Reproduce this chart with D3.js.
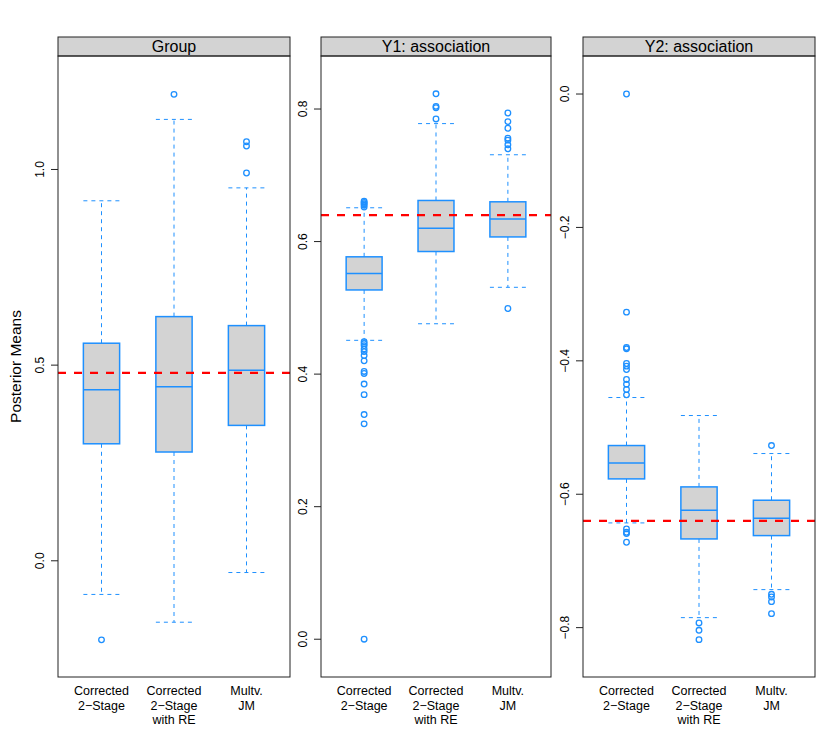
<!DOCTYPE html>
<html lang="en">
<head>
<meta charset="utf-8">
<style>
  body { margin: 0; background: white; }
  svg { font-family: 'Liberation Sans', Arial, sans-serif; }
  .frame { fill: none; stroke: #222; stroke-width: 1; }
  .strip { fill: #d3d3d3; stroke: #222; stroke-width: 1; }
  .box { fill: #d3d3d3; stroke: #1e90ff; stroke-width: 1.5; }
  .whisker { stroke: #1e90ff; stroke-width: 1; stroke-dasharray: 4,4; fill: none; }
  .outlier { fill: none; stroke: #1e90ff; stroke-width: 1.3; }
  .truth { stroke: red; stroke-width: 2.2; stroke-dasharray: 8,8; }
  .tick line { stroke: #222; }
</style>
</head>
<body>
<svg width="830" height="755"></svg>
<script src="https://d3js.org/d3.v7.min.js"></script>
<script>
// panel titles, methods, reference values
const panels = ["Group", "Y1: association", "Y2: association"];
const methods = [["Corrected", "2\u2212Stage"], ["Corrected", "2\u2212Stage", "with RE"], ["Multv.", "JM"]];
const trueValues = [0.48, 0.64, -0.64];
const yLimits = [[-0.297, 1.29], [-0.057, 0.88], [-0.874, 0.057]];
const yTicks = [[0.0, 0.5, 1.0], [0.0, 0.2, 0.4, 0.6, 0.8], [-0.8, -0.6, -0.4, -0.2, 0.0]];

// box stats: [lower whisker, q1, median, q3, upper whisker]
const groupStats = [[-0.086, 0.299, 0.437, 0.556, 0.920], [-0.157, 0.278, 0.445, 0.624, 1.128], [-0.030, 0.346, 0.487, 0.601, 0.953]];
const groupOutliers = [[-0.202], [1.192], [0.991, 1.060, 1.071]];

const y1Stats = [[0.451, 0.527, 0.552, 0.577, 0.651], [0.476, 0.585, 0.620, 0.662, 0.778], [0.531, 0.607, 0.634, 0.660, 0.731]];
const y1Outliers = [
  [0.0, 0.325, 0.339, 0.369, 0.385, 0.401, 0.404, 0.420, 0.428, 0.434, 0.438, 0.443, 0.446, 0.449, 0.652, 0.655, 0.657, 0.659, 0.661],
  [0.785, 0.802, 0.804, 0.823],
  [0.499, 0.740, 0.746, 0.753, 0.756, 0.771, 0.781, 0.794]
];

const y2Stats = [[-0.643, -0.577, -0.553, -0.527, -0.455], [-0.785, -0.667, -0.624, -0.589, -0.482], [-0.743, -0.662, -0.636, -0.609, -0.539]];
const y2Outliers = [
  [-0.672, -0.659, -0.657, -0.652, -0.451, -0.443, -0.435, -0.428, -0.413, -0.408, -0.404, -0.382, -0.380, -0.327, 0.0],
  [-0.818, -0.804, -0.793],
  [-0.779, -0.761, -0.754, -0.750, -0.527]
];

const allStats = [groupStats, y1Stats, y2Stats];
const allOutliers = [groupOutliers, y1Outliers, y2Outliers];

const svg = d3.select("svg");
const panelX = [[58, 290], [321, 551], [583, 815]];
const stripTop = 37, plotTop = 56, plotBottom = 677;
const boxRatio = 0.5;

panels.forEach(function (title, p) {
  const x = d3.scaleLinear().domain([0.4, 3.6]).range(panelX[p]);
  const y = d3.scaleLinear().domain(yLimits[p]).range([plotBottom, plotTop]);
  const g = svg.append("g");
  const halfW = (x(1 + boxRatio / 2) - x(1 - boxRatio / 2)) / 2;

  // strip
  g.append("rect").attr("class", "strip")
    .attr("x", panelX[p][0]).attr("y", stripTop)
    .attr("width", panelX[p][1] - panelX[p][0]).attr("height", plotTop - stripTop);
  g.append("text")
    .attr("x", (panelX[p][0] + panelX[p][1]) / 2).attr("y", 52)
    .attr("text-anchor", "middle").attr("font-size", 16)
    .text(title);

  // y axis
  const ticks = g.selectAll(".tick").data(yTicks[p]).enter().append("g")
    .attr("class", "tick")
    .attr("transform", d => "translate(" + panelX[p][0] + "," + y(d) + ")");
  ticks.append("line").attr("x1", -7).attr("x2", 0);
  ticks.append("text")
    .attr("transform", "translate(-14.5,0) rotate(-90)")
    .attr("text-anchor", "middle").attr("font-size", 12)
    .text(d => d3.format(".1f")(d).replace("-", "\u2212"));

  // boxes
  allStats[p].forEach(function (s, i) {
    const cx = x(i + 1);
    g.append("line").attr("class", "whisker")
      .attr("x1", cx).attr("x2", cx).attr("y1", y(s[3])).attr("y2", y(s[4]));
    g.append("line").attr("class", "whisker")
      .attr("x1", cx).attr("x2", cx).attr("y1", y(s[1])).attr("y2", y(s[0]));
    [s[0], s[4]].forEach(function (v) {
      g.append("line").attr("class", "whisker")
        .attr("x1", cx - halfW).attr("x2", cx + halfW).attr("y1", y(v)).attr("y2", y(v));
    });
    g.append("rect").attr("class", "box")
      .attr("x", cx - halfW).attr("y", y(s[3]))
      .attr("width", 2 * halfW).attr("height", y(s[1]) - y(s[3]));
    g.append("line").attr("stroke", "#1e90ff").attr("stroke-width", 1.5)
      .attr("x1", cx - halfW).attr("x2", cx + halfW).attr("y1", y(s[2])).attr("y2", y(s[2]));
    g.selectAll(null).data(allOutliers[p][i]).enter().append("circle")
      .attr("class", "outlier")
      .attr("cx", cx).attr("cy", d => y(d)).attr("r", 2.8);
  });

  // reference line
  g.append("line").attr("class", "truth")
    .attr("x1", panelX[p][0]).attr("x2", panelX[p][1])
    .attr("y1", y(trueValues[p])).attr("y2", y(trueValues[p]));

  // frame
  g.append("rect").attr("class", "frame")
    .attr("x", panelX[p][0]).attr("y", plotTop)
    .attr("width", panelX[p][1] - panelX[p][0]).attr("height", plotBottom - plotTop);

  // x labels
  methods.forEach(function (lines, i) {
    const t = g.append("text").attr("text-anchor", "middle").attr("font-size", 12.5);
    lines.forEach(function (ln, k) {
      t.append("tspan").attr("x", x(i + 1)).attr("y", 695 + k * 14.7).text(ln);
    });
  });
});

svg.append("text")
  .attr("transform", "translate(21,366.5) rotate(-90)")
  .attr("text-anchor", "middle").attr("font-size", 15.5)
  .text("Posterior Means");
</script>
</body>
</html>
